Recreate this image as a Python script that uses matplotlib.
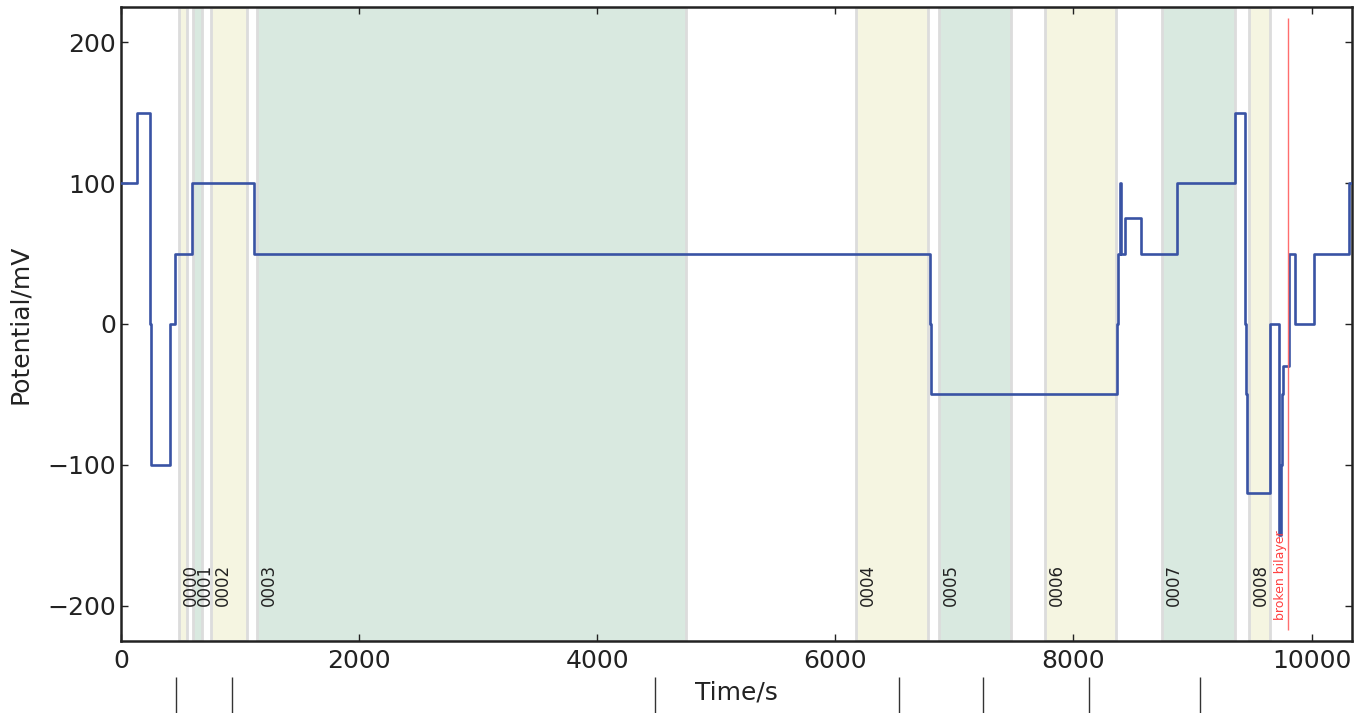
import numpy as np
import matplotlib
matplotlib.use("Agg")
import matplotlib.pyplot as plt
import matplotlib.transforms as mtransforms

# Potential protocol (step trace), time in s, potential in mV
times = [0, 134, 243, 250, 411, 453, 596, 1117, 6793, 6803, 8365, 8374, 8394,
         8402, 8431, 8570, 8867, 9359, 9438, 9446, 9455, 9653, 9731, 9740,
         9748, 9757, 9808, 9863, 10025, 10317, 10340]
potential = [100, 150, 0, -100, 0, 50, 100, 50, 0, -50, 0, 50, 100,
             50, 75, 50, 100, 150, 0, -50, -120, 0, -150, -100,
             -50, -30, 50, 0, 50, 100, 100]

# recorded segments
seg_labels = ["0000", "0001", "0002", "0003", "0004", "0005", "0006", "0007", "0008"]
seg_start = [487, 605, 756, 1143, 6175, 6872, 7763, 8746, 9477]
seg_end = [554, 680, 1059, 4747, 6780, 7477, 8359, 9359, 9653]

# event marks below the axis
event_times = [462, 933, 4486, 6536, 7242, 8132, 9065]

broken_time = 9805

yellow = "#f5f5e1"
green = "#d9e9e0"

fig = plt.figure(figsize=(13.68, 7.13), dpi=100)
ax = fig.add_axes([0.0885, 0.101, 0.8998, 0.8892])

for i, (s, e, lab) in enumerate(zip(seg_start, seg_end, seg_labels)):
    col = yellow if i % 2 == 0 else green
    ax.axvspan(s, e, facecolor=col, edgecolor="#dcdcdc", linewidth=2, zorder=1)
    ax.text(s + 20, -200, lab, rotation=90, ha="left", va="bottom",
            fontsize=12, color="#222222", zorder=4)

ax.plot(times, potential, drawstyle="steps-post", color="#3953a4", lw=1.9, zorder=3)

ax.vlines(broken_time, -217, 217, color="#ff6e6e", lw=1, zorder=4)
ax.text(broken_time - 12, -210, "broken bilayer", rotation=90, ha="right",
        va="bottom", fontsize=9, color="#ff4040", zorder=4)

trans = mtransforms.blended_transform_factory(ax.transData, ax.transAxes)
ax.vlines(event_times, -0.057, -0.125, transform=trans, color="#333333",
          lw=1, clip_on=False)

ax.set_xlim(0, 10340)
ax.set_ylim(-225, 225)
ax.set_xticks([0, 2000, 4000, 6000, 8000, 10000])
ax.set_yticks([-200, -100, 0, 100, 200])
ax.tick_params(direction="in", length=5, width=1, top=True, right=True,
               labelsize=18, colors="#222222")
ax.tick_params(axis="x", pad=6)
for sp in ax.spines.values():
    sp.set_linewidth(1.8)
    sp.set_color("#222222")

ax.set_xlabel("Time/s", fontsize=18, color="#222222", labelpad=5.5)
ax.set_ylabel("Potential/mV", fontsize=18, color="#222222", labelpad=11)

fig.savefig("out.png", dpi=100)
